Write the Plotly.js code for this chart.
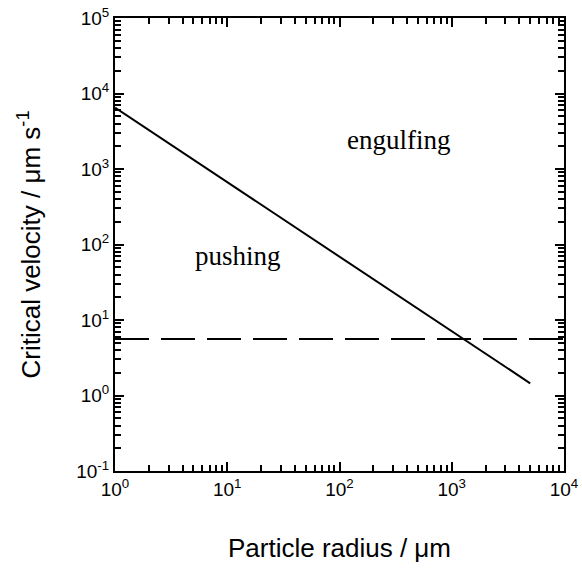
<!DOCTYPE html>
<html><head><meta charset="utf-8">
<script src="https://cdn.plot.ly/plotly-3.0.1.min.js"></script>
<style>html,body{margin:0;padding:0;background:#fff}</style>
</head><body>
<div id="chart" style="width:582px;height:570px"></div>
<script>
// Data
const criticalRadius = [1, 5000];            // µm
const criticalVelocity = [6500, 1.45];       // µm/s  (solid line)
const growthRadius = [1, 10000];             // µm
const growthVelocity = [5.6, 5.6];           // µm/s  (dashed line)
const xMajor = [1, 10, 100, 1000, 10000];
const xMajorText = ['10<sup>0</sup>', '10<sup>1</sup>', '10<sup>2</sup>', '10<sup>3</sup>', '10<sup>4</sup>'];
const yMajor = [0.1, 1, 10, 100, 1000, 10000, 100000];
const yMajorText = ['10<sup>-1</sup>', '10<sup>0</sup>', '10<sup>1</sup>', '10<sup>2</sup>', '10<sup>3</sup>', '10<sup>4</sup>', '10<sup>5</sup>'];
const minorDigits = [2, 3, 4, 5, 6, 7, 8, 9];
const regionLabels = ['engulfing', 'pushing'];
const regionX = [112, 5];
const regionY = [2400, 70];

function minorTicks(majors) {
  const out = [];
  majors.slice(0, -1).forEach(m => minorDigits.forEach(d => out.push(m * d)));
  return out;
}

const traces = [
  {x: criticalRadius, y: criticalVelocity, mode: 'lines', type: 'scatter',
   line: {color: '#000', width: 2}, hoverinfo: 'skip'},
  {x: growthRadius, y: growthVelocity, mode: 'lines', type: 'scatter',
   line: {color: '#000', width: 2, dash: '34px,12px'}, hoverinfo: 'skip'}
];

const axisCommon = {
  type: 'log', showgrid: false, zeroline: false,
  showline: true, linecolor: '#000', linewidth: 2, mirror: 'allticks',
  ticks: 'inside', ticklen: 9, tickwidth: 2, tickcolor: '#000', tickmode: 'array',
  tickfont: {family: 'Liberation Sans, Arial, sans-serif', size: 19, color: '#000'}
};
const minorCommon = {ticks: 'inside', ticklen: 6, tickwidth: 2, tickcolor: '#000', tickmode: 'array', showgrid: false};

const layout = {
  width: 582, height: 570,
  margin: {l: 115, r: 18, t: 18, b: 99},
  paper_bgcolor: '#fff', plot_bgcolor: '#fff',
  showlegend: false,
  xaxis: Object.assign({}, axisCommon, {
    range: [0, 4], tickvals: xMajor, ticktext: xMajorText,
    minor: Object.assign({}, minorCommon, {tickvals: minorTicks(xMajor)}),
    title: {text: 'Particle radius / \u03bcm', standoff: 40,
            font: {family: 'Liberation Sans, Arial, sans-serif', size: 26, color: '#000'}}
  }),
  yaxis: Object.assign({}, axisCommon, {
    range: [-1, 5], tickvals: yMajor, ticktext: yMajorText,
    minor: Object.assign({}, minorCommon, {tickvals: minorTicks(yMajor)}),
    title: {text: 'Critical velocity / \u03bcm s<sup>-1</sup>', standoff: 28,
            font: {family: 'Liberation Sans, Arial, sans-serif', size: 26, color: '#000'}}
  }),
  annotations: regionLabels.map((t, i) => ({
    x: Math.log10(regionX[i]), y: Math.log10(regionY[i]), xref: 'x', yref: 'y',
    text: t, showarrow: false, xanchor: 'left',
    font: {family: 'Liberation Serif, Times New Roman, serif', size: 27, color: '#000'}
  }))
};

Plotly.newPlot('chart', traces, layout, {staticPlot: true, displayModeBar: false});
</script>
</body></html>
